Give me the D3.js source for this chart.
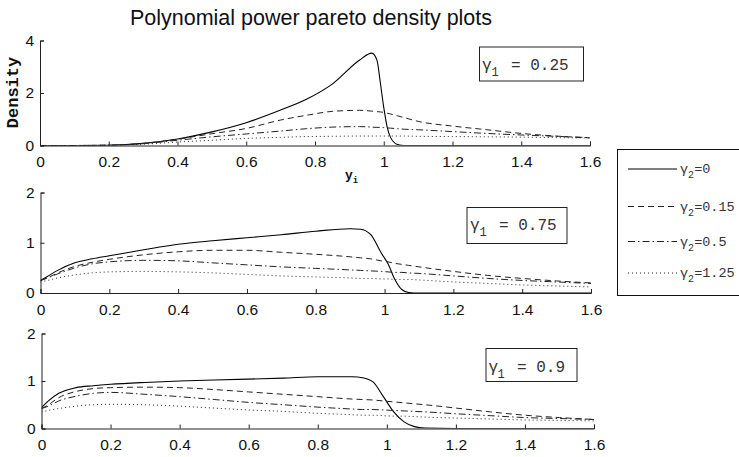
<!DOCTYPE html>
<html>
<head>
<meta charset="utf-8">
<script src="https://cdn.jsdelivr.net/npm/d3@7"></script>
<style>
  html, body { margin: 0; padding: 0; background: #fff; }
  svg { display: block; }
  .tick text { font-family: "Liberation Sans", Arial, sans-serif; font-size: 15.5px; fill: #111; }
  .mono { font-family: "Liberation Mono", "Courier New", monospace; }
</style>
</head>
<body>
<svg id="chart" width="739" height="457"></svg>
<script>
// gamma_1 value for each panel, gamma_2 value for each curve
const gamma1 = ["0.25", "0.75", "0.9"];
const gamma2 = ["0", "0.15", "0.5", "1.25"];
const xTicks = [0, 0.2, 0.4, 0.6, 0.8, 1, 1.2, 1.4, 1.6];
const yTicksTop = [0, 2, 4];
const yTicksLow = [0, 1, 2];

// gamma_1 = 0.25
const xTop = [0, 0.1, 0.2, 0.3, 0.4, 0.5, 0.6, 0.7, 0.775, 0.85, 0.93, 0.965, 0.98, 0.99, 1.0, 1.01, 1.02, 1.04, 1.06, 1.1, 1.2, 1.3, 1.4, 1.5, 1.6];
const topG0   = [0, 0, 0.01, 0.08, 0.25, 0.52, 0.87, 1.35, 1.76, 2.34, 3.26, 3.52, 3.26, 2.4, 1.45, 0.7, 0.3, 0.04, 0, 0, 0, 0, 0, 0, 0];
const topG015 = [0, 0, 0.01, 0.08, 0.24, 0.45, 0.65, 0.97, 1.15, 1.3, 1.34, 1.31, 1.29, 1.28, 1.26, 1.23, 1.2, 1.13, 1.06, 0.92, 0.74, 0.6, 0.46, 0.36, 0.29];
const topG05  = [0, 0, 0.01, 0.07, 0.2, 0.33, 0.44, 0.55, 0.64, 0.7, 0.72, 0.7, 0.69, 0.69, 0.68, 0.67, 0.66, 0.64, 0.62, 0.6, 0.53, 0.46, 0.4, 0.35, 0.3];
const topG125 = [0, 0, 0.01, 0.05, 0.13, 0.2, 0.27, 0.31, 0.34, 0.35, 0.36, 0.36, 0.36, 0.36, 0.36, 0.36, 0.36, 0.36, 0.36, 0.35, 0.34, 0.33, 0.32, 0.3, 0.29];

// gamma_1 = 0.75
const xMid = [0, 0.02, 0.05, 0.1, 0.15, 0.2, 0.3, 0.4, 0.5, 0.6, 0.7, 0.8, 0.9, 0.93, 0.96, 0.99, 1.01, 1.03, 1.05, 1.07, 1.1, 1.2, 1.3, 1.4, 1.5, 1.6];
const midG0   = [0.25, 0.33, 0.45, 0.6, 0.68, 0.74, 0.86, 0.97, 1.04, 1.1, 1.16, 1.23, 1.28, 1.27, 1.16, 0.8, 0.58, 0.27, 0.07, 0.01, 0, 0, 0, 0, 0, 0];
const midG015 = [0.25, 0.3, 0.4, 0.53, 0.61, 0.67, 0.76, 0.82, 0.85, 0.85, 0.81, 0.77, 0.72, 0.7, 0.68, 0.64, 0.62, 0.59, 0.57, 0.55, 0.52, 0.43, 0.35, 0.29, 0.24, 0.2];
const midG05  = [0.25, 0.3, 0.38, 0.5, 0.58, 0.62, 0.65, 0.64, 0.6, 0.56, 0.52, 0.49, 0.46, 0.45, 0.44, 0.43, 0.42, 0.41, 0.41, 0.4, 0.39, 0.34, 0.29, 0.25, 0.22, 0.19];
const midG125 = [0.22, 0.25, 0.3, 0.36, 0.4, 0.42, 0.43, 0.42, 0.4, 0.37, 0.34, 0.32, 0.3, 0.29, 0.29, 0.28, 0.28, 0.27, 0.27, 0.27, 0.26, 0.22, 0.19, 0.16, 0.14, 0.12];

// gamma_1 = 0.9
const xLow = [0, 0.02, 0.05, 0.1, 0.15, 0.2, 0.3, 0.4, 0.5, 0.6, 0.7, 0.8, 0.9, 0.93, 0.96, 0.99, 1.02, 1.05, 1.08, 1.11, 1.2, 1.3, 1.4, 1.5, 1.6];
const lowG0   = [0.44, 0.58, 0.74, 0.86, 0.9, 0.93, 0.97, 1.0, 1.02, 1.04, 1.06, 1.09, 1.09, 1.07, 0.98, 0.67, 0.35, 0.14, 0.04, 0.01, 0, 0, 0, 0, 0];
const lowG015 = [0.42, 0.5, 0.65, 0.78, 0.84, 0.86, 0.87, 0.86, 0.82, 0.77, 0.72, 0.67, 0.62, 0.61, 0.6, 0.58, 0.56, 0.54, 0.52, 0.5, 0.43, 0.35, 0.28, 0.23, 0.19];
const lowG05  = [0.42, 0.47, 0.58, 0.68, 0.74, 0.76, 0.72, 0.67, 0.61, 0.55, 0.5, 0.45, 0.41, 0.4, 0.4, 0.39, 0.38, 0.37, 0.36, 0.35, 0.31, 0.27, 0.23, 0.21, 0.19];
const lowG125 = [0.35, 0.38, 0.42, 0.47, 0.5, 0.51, 0.5, 0.47, 0.43, 0.39, 0.36, 0.32, 0.29, 0.28, 0.28, 0.27, 0.26, 0.26, 0.25, 0.24, 0.22, 0.2, 0.18, 0.17, 0.16];

// line styles, one per gamma_2 value
const dashes = [null, "6,4", "7,3,1.5,3", "1,3"];

const svg = d3.select("#chart");
const sans = '"Liberation Sans", Arial, sans-serif';
const fmt = d3.format("~g");

// panel frames (pixels)
const panels = [
  { xs: xTop, ys: [topG0, topG015, topG05, topG125], yMax: 4, yTicks: yTicksTop,
    left: 40, right: 590, top: 40.5, bottom: 145.5,
    box: { x: 479.5, y: 47, w: 104, h: 34, gx: 482, sx: 491.5, tx: 511, base: 70 } },
  { xs: xMid, ys: [midG0, midG015, midG05, midG125], yMax: 2, yTicks: yTicksLow,
    left: 40.5, right: 591, top: 192.5, bottom: 293,
    box: { x: 467, y: 207.5, w: 100, h: 36, gx: 470, sx: 479.5, tx: 499, base: 230 } },
  { xs: xLow, ys: [lowG0, lowG015, lowG05, lowG125], yMax: 2, yTicks: yTicksLow,
    left: 41.5, right: 594, top: 333.5, bottom: 428.5,
    box: { x: 486, y: 348.5, w: 91, h: 33, gx: 488.5, sx: 497.5, tx: 517, base: 371.5 } }
];

panels.forEach((p, i) => {
  const x = d3.scaleLinear().domain([0, 1.6]).range([p.left, p.right]);
  const y = d3.scaleLinear().domain([0, p.yMax]).range([p.bottom, p.top]);
  const g = svg.append("g");

  const clipId = "clip" + i;
  svg.append("clipPath").attr("id", clipId).append("rect")
    .attr("x", p.left).attr("y", p.top - 2)
    .attr("width", p.right - p.left).attr("height", p.bottom - p.top + 2);

  const line = d3.line().x(d => x(d[0])).y(d => y(d[1])).curve(d3.curveMonotoneX);
  p.ys.forEach((vals, k) => {
    const pts = p.xs.map((xv, j) => [xv, vals[j]]);
    g.append("path")
      .attr("d", line(pts))
      .attr("clip-path", `url(#${clipId})`)
      .attr("fill", "none")
      .attr("stroke", k === 0 ? "#000" : "#222")
      .attr("stroke-width", k === 0 ? 1.1 : 1)
      .attr("stroke-dasharray", dashes[k]);
  });

  // bottom axis, ticks pointing inward
  const xa = g.append("g").attr("transform", `translate(0,${p.bottom})`)
    .call(d3.axisBottom(x).tickValues(xTicks).tickSize(-4).tickPadding(8).tickFormat(fmt));
  xa.select(".domain").attr("stroke", "#222");
  xa.selectAll(".tick line").attr("stroke", "#222");
  xa.selectAll(".tick text").attr("dy", "0.9em");

  // left axis
  const ya = g.append("g").attr("transform", `translate(${p.left},0)`)
    .call(d3.axisLeft(y).tickValues(p.yTicks).tickSize(-4).tickPadding(6).tickFormat(fmt));
  ya.select(".domain").attr("stroke", "#222");
  ya.selectAll(".tick line").attr("stroke", "#222");

  // gamma_1 annotation box
  const b = p.box;
  g.append("rect").attr("x", b.x).attr("y", b.y).attr("width", b.w).attr("height", b.h)
    .attr("fill", "#fff").attr("stroke", "#222").attr("stroke-width", 1);
  g.append("text").attr("class", "mono").attr("x", b.gx).attr("y", b.base)
    .attr("font-size", 16).attr("fill", "#333").text("γ");
  g.append("text").attr("class", "mono").attr("x", b.sx).attr("y", b.base + 6)
    .attr("font-size", 12).attr("fill", "#333").text("1");
  g.append("text").attr("class", "mono").attr("x", b.tx).attr("y", b.base)
    .attr("font-size", 16).attr("fill", "#333").text("= " + gamma1[i]);
});

// title
svg.append("text").attr("x", 311).attr("y", 25).attr("text-anchor", "middle")
  .attr("font-family", sans).attr("font-size", 21.5).attr("fill", "#111")
  .text("Polynomial power pareto density plots");

// axis labels
svg.append("text").attr("class", "mono")
  .attr("transform", "translate(18,92.5) rotate(-90)")
  .attr("text-anchor", "middle").attr("font-size", 17).attr("font-weight", "bold")
  .attr("fill", "#111").text("Density");
const yl = svg.append("text").attr("class", "mono").attr("x", 345).attr("y", 179)
  .attr("font-size", 13).attr("font-weight", "bold").attr("fill", "#111");
yl.append("tspan").text("y");
yl.append("tspan").attr("dy", 4).attr("font-size", 9).text("i");

// legend
const lg = svg.append("g");
lg.append("rect").attr("x", 617.5).attr("y", 149.5).attr("width", 140).attr("height", 146)
  .attr("fill", "#fff").attr("stroke", "#111").attr("stroke-width", 1);
const rowsY = [169, 206.5, 241.5, 273];
gamma2.forEach((gv, k) => {
  const yy = rowsY[k];
  lg.append("line").attr("x1", 628).attr("x2", 677).attr("y1", yy).attr("y2", yy)
    .attr("stroke", k === 0 ? "#000" : "#222").attr("stroke-width", 1)
    .attr("stroke-dasharray", dashes[k]);
  const t = lg.append("text").attr("class", "mono").attr("x", 680).attr("y", yy + 4)
    .attr("font-size", 13.5).attr("fill", "#333");
  t.append("tspan").text("γ");
  t.append("tspan").attr("dy", 5).attr("font-size", 10).text("2");
  t.append("tspan").attr("dy", -5).text("=" + gv);
});
</script>
</body>
</html>
